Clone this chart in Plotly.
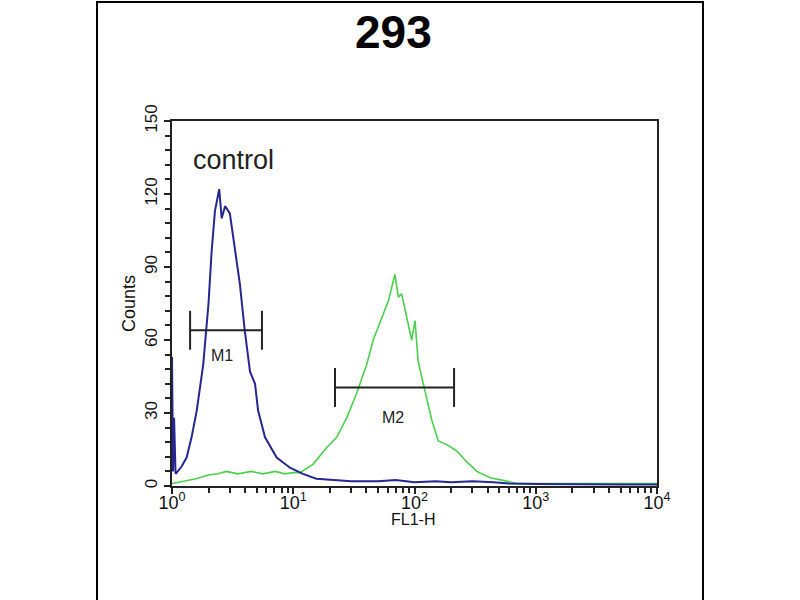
import plotly.graph_objects as go

# ---- data ----
blue_x = [1.0, 1.02, 1.04, 1.07, 1.094, 1.2, 1.32, 1.45, 1.6, 1.81, 2.0, 2.12, 2.26, 2.45,
          2.57, 2.74, 3.0, 3.31, 3.63, 3.98, 4.4, 4.84, 5.13, 5.85, 7.3, 9.4, 12.0, 15.5,
          20, 30, 50, 70, 100, 150, 200, 300, 450, 600, 1000, 2000, 5000, 10000]
blue_y = [53, 6, 28, 5, 5.5, 8, 11.7, 20, 31, 50, 75, 96, 113, 122,
          110, 115, 112, 98, 83, 64, 47, 42, 31, 20, 11.7, 7.5, 5, 3,
          2.5, 2, 2, 2.5, 1.5, 2, 1.5, 2, 1.5, 1, 0.8, 0.6, 0.6, 0.6]

green_x = [1.0, 1.12, 1.3, 1.58, 2.0, 2.4, 2.8, 3.5, 4.5, 5.6, 7.1, 8.5, 10, 11.4, 14.6,
           18.9, 22.8, 27.6, 33.3, 40.4, 45.7, 53.7, 60.8, 69, 73.5, 78.3, 86.3, 94.8,
           101, 107, 122, 139, 157, 185, 223, 269, 326, 420, 575, 697, 1000, 2000, 5000, 10000]
green_y = [1, 1.5, 2, 3, 4.5, 5, 6, 5, 6, 5, 6, 5, 5.5, 5.5, 9,
           15.8, 20, 28, 38, 50, 60, 69, 76, 87, 77.6, 79, 69, 60,
           68, 51.5, 39, 27, 18.5, 17, 14.4, 10, 6, 3.4, 2, 1, 1, 1, 1, 1]

m1_range = [1.41, 5.52]
m1_level = 64
m2_range = [22.1, 212]
m2_level = 40.5
marker_half = 8

x_tickvals = [1, 10, 100, 1000, 10000]
x_ticktext = ["10<sup>0</sup>", "10<sup>1</sup>", "10<sup>2</sup>", "10<sup>3</sup>", "10<sup>4</sup>"]
x_minor = [m * 10 ** e for e in range(4) for m in range(2, 10)]
y_tickvals = [0, 30, 60, 90, 120, 150]

fig = go.Figure()
fig.add_trace(go.Scatter(x=green_x, y=green_y, mode="lines",
                         line=dict(color="#4ccf4c", width=1.6), showlegend=False))
fig.add_trace(go.Scatter(x=blue_x, y=blue_y, mode="lines",
                         line=dict(color="#262690", width=2), showlegend=False))

def marker_xy(rng, lvl):
    xs = [rng[0], rng[1], None, rng[0], rng[0], None, rng[1], rng[1]]
    ys = [lvl, lvl, None, lvl - marker_half, lvl + marker_half, None, lvl - marker_half, lvl + marker_half]
    return xs, ys

for rng, lvl in [(m1_range, m1_level), (m2_range, m2_level)]:
    mx, my = marker_xy(rng, lvl)
    fig.add_trace(go.Scatter(x=mx, y=my, mode="lines",
                             line=dict(color="#222222", width=2), showlegend=False))

xfont = dict(family="Liberation Sans, Arial, sans-serif", size=18, color="#111111")
yfont = dict(family="Liberation Sans, Arial, sans-serif", size=17, color="#111111")

fig.update_layout(
    width=800, height=600,
    margin=dict(l=172, r=143, t=121, b=114),
    paper_bgcolor="white", plot_bgcolor="white",
    xaxis=dict(type="log", range=[0, 4], showgrid=False, zeroline=False,
               showline=True, linecolor="#222222", linewidth=2, mirror=True,
               ticks="outside", ticklen=6, tickwidth=2, tickcolor="#222222",
               tickmode="array", tickvals=x_tickvals, ticktext=x_ticktext,
               tickfont=xfont, ticklabelstandoff=-7,
               minor=dict(tickmode="array", tickvals=x_minor, ticks="outside",
                          ticklen=5, tickwidth=2, tickcolor="#222222", showgrid=False)),
    yaxis=dict(range=[0, 150], showgrid=False, zeroline=False,
               showline=True, linecolor="#222222", linewidth=2, mirror=True,
               ticks="outside", ticklen=6, tickwidth=2, tickcolor="#222222",
               tickmode="array", tickvals=y_tickvals, tickangle=-90,
               tickfont=yfont,
               minor=dict(dtick=6, ticks="outside", ticklen=5, tickwidth=2,
                          tickcolor="#222222", showgrid=False)),
    font=dict(family="Liberation Sans, Arial, sans-serif", color="#111111"),
)

fig.add_annotation(text="<b>293</b>", xref="paper", yref="paper", x=0.4577, y=1.2438,
                   showarrow=False, font=dict(size=46, family="Liberation Sans, Arial", color="black"),
                   xanchor="center", yanchor="middle")
fig.add_annotation(text="control", xref="paper", yref="paper", x=0.1278, y=0.892,
                   showarrow=False, font=dict(size=27, family="Liberation Sans, Arial", color="#222222"),
                   xanchor="center", yanchor="middle")
fig.add_annotation(text="Counts", xref="paper", yref="paper", x=-0.0887, y=0.5014,
                   textangle=-90, showarrow=False,
                   font=dict(size=18, family="Liberation Sans, Arial", color="#111111"),
                   xanchor="center", yanchor="middle")
fig.add_annotation(text="FL1-H", xref="paper", yref="paper", x=0.4969, y=-0.093,
                   showarrow=False, font=dict(size=16, family="Liberation Sans, Arial", color="#111111"),
                   xanchor="center", yanchor="middle")
fig.add_annotation(text="M1", x=0.412, y=53.6, showarrow=False,
                   font=dict(size=16, family="Liberation Sans, Arial", color="#222222"),
                   xanchor="center", yanchor="middle")
fig.add_annotation(text="M2", x=1.823, y=28, showarrow=False,
                   font=dict(size=16, family="Liberation Sans, Arial", color="#222222"),
                   xanchor="center", yanchor="middle")

fig.add_shape(type="rect", xref="paper", yref="paper",
              x0=-0.1546, x1=1.0948, y0=-0.5, y1=1.3260,
              line=dict(color="black", width=2), fillcolor="rgba(0,0,0,0)", layer="below")

fig.write_html("out.html", config={"displayModeBar": False},
               post_script="document.body.style.margin='0';")
